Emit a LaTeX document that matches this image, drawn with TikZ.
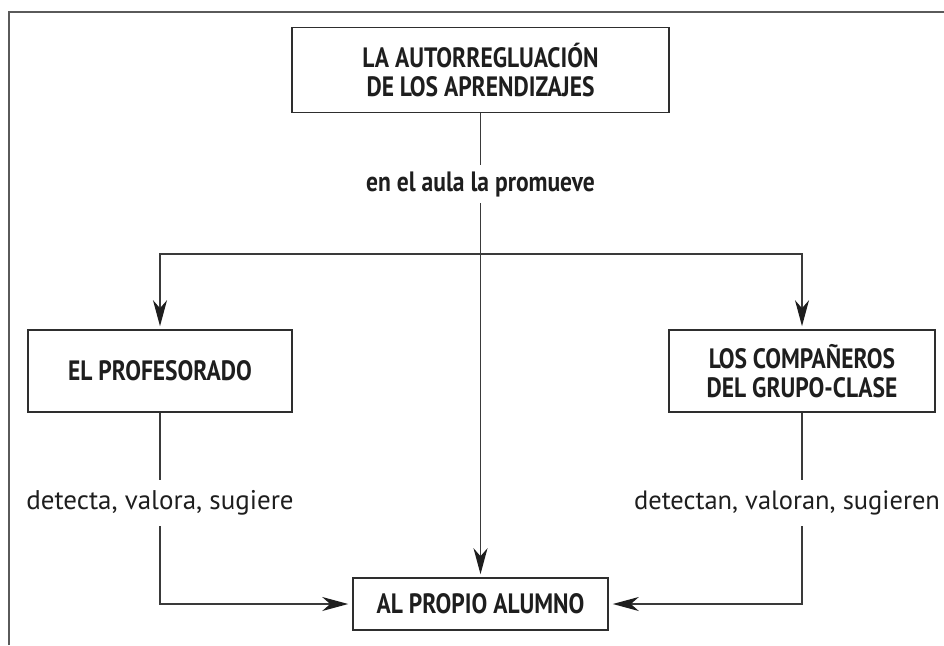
\documentclass[tikz,border=0pt]{standalone}
\usepackage{fontspec}
\setmainfont[FakeStretch=0.84]{PT Sans}
\newfontfamily\regfont{PT Sans}
\usetikzlibrary{arrows.meta}
\definecolor{framegray}{HTML}{5A5A5A}
\definecolor{linegray}{HTML}{3A3A3A}
\definecolor{boxline}{HTML}{2E2E2E}
\definecolor{txt}{HTML}{1E1E1E}
\tikzset{
  box/.style={draw=boxline, line width=1.6pt, inner sep=0pt, text=txt, align=center,
    font=\fontsize{28}{29}\selectfont\bfseries},
  conn/.style={draw=linegray, line width=1.4pt},
  arr/.style={conn, -{Stealth[length=26pt,width=14pt,inset=8pt,color=txt]}, shorten >=3pt},
  lab/.style={inner sep=0pt, text=txt, minimum height=38pt},
}
\begin{document}
\begin{tikzpicture}[x=1pt,y=-1pt]
\useasboundingbox (0,0) rectangle (944,645);
\draw[framegray, line width=1.8pt] (9,645) -- (9,12) -- (944,12);

\node[box, minimum width=377pt, minimum height=85pt] (top) at (480.5,70)
  {LA AUTORREGLUACIÓN\\DE LOS APRENDIZAJES};
\node[box, minimum width=264pt, minimum height=82pt] (prof) at (160,371)
  {EL PROFESORADO};
\node[box, minimum width=266pt, minimum height=82pt] (comp) at (802,371)
  {LOS COMPAÑEROS\\DEL GRUPO-CLASE};
\node[box, minimum width=255pt, minimum height=52pt] (alum) at (480.5,604)
  {AL PROPIO ALUMNO};

\node[lab, font=\fontsize{28}{29}\selectfont\bfseries] (l1) at (480.5,184) {en el aula la promueve};
\node[lab, minimum height=46pt, font=\fontsize{27}{29}\regfont] (l2) at (160,503) {detecta, valora, sugiere};
\node[lab, minimum height=46pt, font=\fontsize{26.5}{29}\regfont] (l3) at (787,503) {detectan, valoran, sugieren};

\coordinate (jc) at (480.5,254);

\draw[conn] (top.south) -- (l1.north);
\draw[arr] (l1.south) -- (alum.north);
\draw[arr] (jc) -| (prof.north);
\draw[arr] (jc) -| (comp.north);
\draw[conn] (prof.south) -- (prof.south |- l2.north);
\draw[arr, shorten >=4pt] (prof.south |- l2.south) |- (alum.west);
\draw[conn] (comp.south) -- (comp.south |- l3.north);
\draw[arr, shorten >=4pt] (comp.south |- l3.south) |- (alum.east);
\end{tikzpicture}
\end{document}
